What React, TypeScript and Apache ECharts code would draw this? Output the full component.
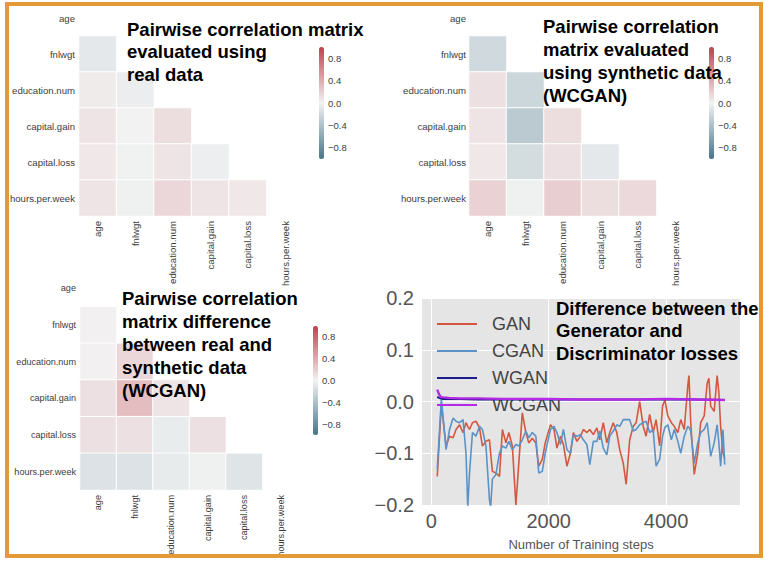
import React, { useEffect, useRef } from 'react';
import * as echarts from 'echarts';

// ---------- Heatmap data ----------
const features = ['age', 'fnlwgt', 'education.num', 'capital.gain', 'capital.loss', 'hours.per.week'];

// lower triangles (row i holds correlations with columns 0..i-1)
const realCorr: number[][] = [
  [],
  [-0.08],
  [0.04, -0.04],
  [0.08, 0.0, 0.12],
  [0.06, -0.01, 0.08, -0.03],
  [0.08, -0.02, 0.15, 0.08, 0.06],
];
const synthCorr: number[][] = [
  [],
  [-0.2],
  [0.1, -0.22],
  [0.08, -0.32, 0.12],
  [0.06, -0.18, 0.1, -0.08],
  [0.18, -0.02, 0.2, 0.12, 0.14],
];
const diffCorr: number[][] = [
  [],
  [0.01],
  [0.01, 0.15],
  [0.1, 0.3, 0.08],
  [0.1, 0.1, -0.05, 0.1],
  [-0.13, -0.13, -0.06, -0.02, -0.11],
];

// ---------- Loss-difference data ----------
const steps = [
  100, 170, 250, 310, 370, 420, 480, 540, 590, 620,
  650, 700, 760, 820, 870, 930, 990, 1010, 1040, 1100,
  1160, 1210, 1270, 1320, 1380, 1440, 1490, 1550, 1610, 1660,
  1720, 1780, 1830, 1890, 1940, 2030, 2090, 2140, 2200, 2250,
  2310, 2370, 2420, 2480, 2540, 2590, 2650, 2700, 2760, 2820,
  2870, 2930, 2990, 3040, 3100, 3160, 3210, 3270, 3320, 3380,
  3440, 3490, 3550, 3610, 3660, 3720, 3780, 3830, 3890, 3940,
  3980, 4030, 4090, 4140, 4200, 4250, 4310, 4370, 4390, 4420,
  4480, 4540, 4590, 4650, 4700, 4730, 4760, 4820, 4870, 4900,
  4930, 4970, 5000,
];
const gan = [
  -0.145, -0.005, -0.086, -0.067, -0.07, -0.054, -0.045, -0.06, -0.041, -0.048,
  -0.054, -0.041, -0.038, -0.051, -0.086, -0.077, -0.074, -0.1, -0.135, -0.138,
  -0.145, -0.054, -0.08, -0.06, -0.086, -0.2, -0.119, -0.022, -0.06, -0.08,
  -0.071, -0.08, -0.125, -0.112, -0.08, -0.045, -0.054, -0.09, -0.067, -0.083,
  -0.125, -0.1, -0.06, -0.077, -0.067, -0.054, -0.06, -0.054, -0.064, -0.051,
  -0.074, -0.041, -0.08, -0.06, -0.041, -0.06, -0.093, -0.119, -0.16, -0.074,
  -0.048, -0.041, 0.0, -0.048, -0.067, -0.025, -0.06, -0.035, -0.086, -0.009,
  0.003, -0.028, -0.041, -0.048, -0.06, -0.035, -0.054, 0.03, 0.05, -0.041,
  -0.141, -0.1, -0.041, -0.028, 0.035, 0.045, -0.009, -0.019, 0.05, 0.017,
  -0.048, -0.1, -0.11,
];
const cgan = [
  -0.13, 0.005, -0.093, -0.054, -0.032, -0.038, -0.041, -0.035, -0.1, -0.205,
  -0.138, -0.06, -0.067, -0.048, -0.054, -0.086, -0.19, -0.205, -0.15, -0.141,
  -0.1, -0.086, -0.09, -0.077, -0.093, -0.083, -0.086, -0.074, -0.057, -0.07,
  -0.06, -0.067, -0.138, -0.135, -0.1, -0.054, -0.048, -0.06, -0.083, -0.054,
  -0.093, -0.1, -0.064, -0.067, -0.064, -0.074, -0.083, -0.122, -0.077, -0.077,
  -0.057, -0.09, -0.103, -0.067, -0.057, -0.045, -0.048, -0.035, -0.035, -0.035,
  -0.057, -0.054, -0.045, -0.041, -0.038, -0.06, -0.054, -0.125, -0.112, -0.067,
  -0.05, -0.045, -0.074, -0.054, -0.077, -0.1, -0.067, -0.048, -0.05, -0.057,
  -0.119, -0.08, -0.06, -0.054, -0.041, -0.07, -0.106, -0.08, -0.045, -0.08,
  -0.125, -0.054, -0.122,
];
const wSteps = [100, 130, 160, 200, 300, 500, 800, 1200, 1600, 2000, 2500, 3000, 3500, 4000, 4500, 5000];
const wgan = [0.009, 0.007, 0.006, 0.005, 0.005, 0.005, 0.004, 0.004, 0.004, 0.004, 0.004, 0.004, 0.004, 0.004, 0.004, 0.003];
const wcgan = [0.023, 0.014, 0.009, 0.008, 0.007, 0.006, 0.006, 0.005, 0.005, 0.005, 0.004, 0.004, 0.004, 0.005, 0.004, 0.003];
const seriesNames = ['GAN', 'CGAN', 'WGAN', 'WCGAN'];
const xTicks = [0, 2000, 4000];

const palette = ['#46758b', '#f2f2f2', '#c3404e'];
const FONT = '"Liberation Sans", Arial, Helvetica, sans-serif';

function toCells(m: number[][]) {
  const out: number[][] = [];
  m.forEach((row, r) => row.forEach((v, c) => out.push([c, r, v])));
  return out;
}
const fmtMinus = (v: number) => (v < -1e-9 ? '\u2212' : '') + Math.abs(v).toFixed(1);

export default function App() {
  const ref = useRef<HTMLDivElement>(null);
  useEffect(() => {
    if (!ref.current) return;
    const chart = echarts.init(ref.current, undefined, { renderer: 'svg' });

    const hmGrids = [
      { left: 79, top: -9, width: 225, height: 225, fs: 9.6, lm: 4 },
      { left: 469, top: -9, width: 225, height: 225, fs: 9.6, lm: 3 },
      { left: 80, top: 270, width: 219, height: 220, fs: 9.1, lm: 4 },
    ];
    const cbars = [
      { left: 319, top: 47, h: 112 },
      { left: 709, top: 47, h: 112 },
      { left: 313, top: 326, h: 109 },
    ];
    const grids: any[] = [];
    const xAxes: any[] = [];
    const yAxes: any[] = [];
    hmGrids.forEach((g, i) => {
      grids.push({ left: g.left, top: g.top, width: g.width, height: g.height });
      xAxes.push({
        type: 'category', gridIndex: i, data: features,
        axisLine: { show: false }, axisTick: { show: false }, splitLine: { show: false },
        axisLabel: { rotate: 90, interval: 0, fontSize: g.fs, color: '#3c3c3c', margin: 5, fontFamily: FONT },
      });
      yAxes.push({
        type: 'category', gridIndex: i, data: features, inverse: true,
        axisLine: { show: false }, axisTick: { show: false }, splitLine: { show: false },
        axisLabel: { interval: 0, fontSize: g.fs, color: '#3c3c3c', margin: g.lm, fontFamily: FONT },
      });
    });
    cbars.forEach((c, i) => {
      const gi = 3 + i;
      grids.push({ left: c.left, top: c.top + c.h * 0.1, width: 5, height: c.h * 0.8 });
      xAxes.push({ type: 'value', gridIndex: gi, show: false });
      yAxes.push({
        type: 'value', gridIndex: gi, position: 'right', min: -0.8, max: 0.8, interval: 0.4,
        axisLine: { show: false }, axisTick: { show: false }, splitLine: { show: false },
        axisLabel: { fontSize: 9.5, color: '#3c3c3c', margin: 4, fontFamily: FONT, formatter: fmtMinus },
      });
    });
    // line chart grid
    grids.push({ left: 422, top: 298, width: 318, height: 207, show: true, backgroundColor: '#E5E5E5', borderWidth: 0 });
    xAxes.push({
      type: 'value', gridIndex: 6, min: -160, max: 5260, splitNumber: 3,
      axisLine: { show: false }, axisTick: { show: false },
      axisLabel: {
        fontSize: 20, color: '#555', margin: 6, fontFamily: FONT,
        formatter: (v: number) => (xTicks.indexOf(Math.round(v)) >= 0 ? String(Math.round(v)) : ''),
      },
      splitLine: { show: true, showMinLine: false, showMaxLine: false, lineStyle: { color: '#ffffff', width: 1 } },
      name: 'Number of Training steps', nameLocation: 'middle', nameGap: 33,
      nameTextStyle: { fontSize: 13, color: '#555', fontFamily: FONT },
    });
    yAxes.push({
      type: 'value', gridIndex: 6, min: -0.2, max: 0.2, interval: 0.1,
      axisLine: { show: false }, axisTick: { show: false },
      axisLabel: { fontSize: 20, color: '#555', margin: 8, fontFamily: FONT, formatter: fmtMinus },
      splitLine: { show: true, lineStyle: { color: '#ffffff', width: 1 } },
    });

    const mats = [realCorr, synthCorr, diffCorr];
    const series: any[] = mats.map((m, i) => ({
      type: 'heatmap', xAxisIndex: i, yAxisIndex: i, data: toCells(m),
      itemStyle: { borderColor: '#ffffff', borderWidth: 1 },
      emphasis: { disabled: true },
    }));
    const lineColors = ['#d4573f', '#5b93c9', '#1c1c8a', '#b42ae6'];
    const lineWidths = [1.6, 1.6, 2, 2.4];
    const lineData = [
      steps.map((s, i) => [s, gan[i]]),
      steps.map((s, i) => [s, cgan[i]]),
      wSteps.map((s, i) => [s, wgan[i]]),
      wSteps.map((s, i) => [s, wcgan[i]]),
    ];
    seriesNames.forEach((n, i) => {
      series.push({
        type: 'line', name: n, xAxisIndex: 6, yAxisIndex: 6, data: lineData[i],
        showSymbol: false, symbol: 'none', color: lineColors[i],
        lineStyle: { color: lineColors[i], width: lineWidths[i] }, z: 2 + i,
        emphasis: { disabled: true },
      });
    });

    const titleStyle = { fontSize: 18.5, fontWeight: 'bold', color: '#000', fontFamily: FONT };
    const option: any = {
      animation: false,
      backgroundColor: '#ffffff',
      textStyle: { fontFamily: FONT },
      title: [
        { text: 'Pairwise correlation matrix\nevaluated using\nreal data', left: 127, top: 18, padding: 0, textStyle: { ...titleStyle, lineHeight: 22.5 } },
        { text: 'Pairwise correlation\nmatrix evaluated\nusing synthetic data\n(WCGAN)', left: 543, top: 14.5, padding: 0, textStyle: { ...titleStyle, lineHeight: 23 } },
        { text: 'Pairwise correlation\nmatrix difference\nbetween real and\nsynthetic data\n(WCGAN)', left: 122, top: 286.5, padding: 0, textStyle: { ...titleStyle, lineHeight: 23 } },
        { text: 'Difference between the\nGenerator and\nDiscriminator losses', left: 556, top: 297, padding: 0, textStyle: { ...titleStyle, lineHeight: 22.5 } },
      ],
      grid: grids,
      xAxis: xAxes,
      yAxis: yAxes,
      visualMap: cbars.map((c, i) => ({
        type: 'continuous', seriesIndex: i, min: -1, max: 1, calculable: false,
        left: c.left, top: c.top, itemWidth: 5, itemHeight: c.h, padding: 0,
        inRange: { color: palette }, hoverLink: false,
      })),
      legend: {
        data: seriesNames, orient: 'vertical', left: 437, top: 315, padding: 0,
        icon: 'rect', itemWidth: 40, itemHeight: 2, itemGap: 9, selectedMode: false,
        textStyle: { fontSize: 18, color: '#444', lineHeight: 18, padding: [0, 0, 0, 10], fontFamily: FONT },
      },
      graphic: [
        {
          type: 'rect', z: 100, silent: true,
          shape: { x: 7, y: 4, width: 754, height: 552 },
          style: { fill: 'none', stroke: '#e49a36', lineWidth: 4 },
        },
      ],
      series,
    };
    chart.setOption(option);
    return () => chart.dispose();
  }, []);
  return <div ref={ref} style={{ position: 'fixed', left: 0, top: 0, width: 768, height: 564 }} />;
}
